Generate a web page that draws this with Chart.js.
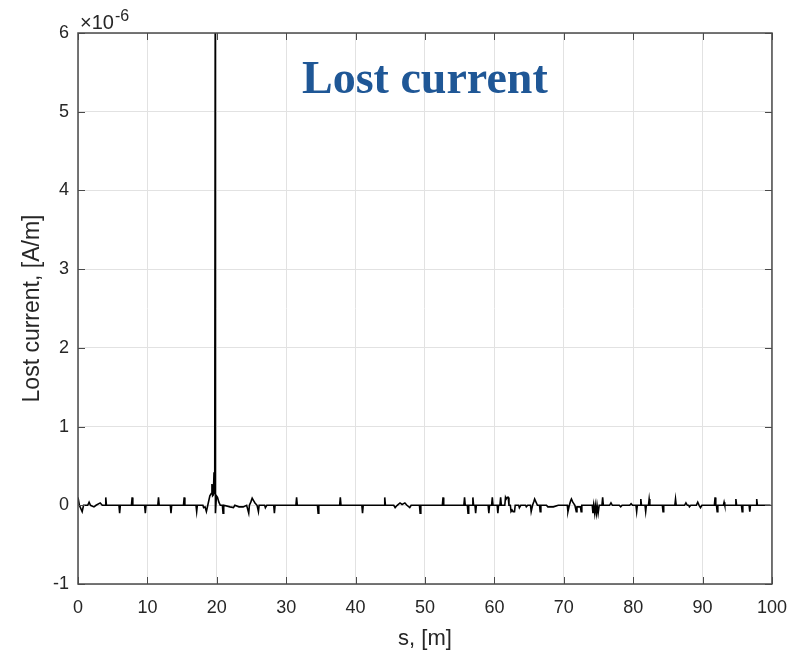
<!DOCTYPE html>
<html>
<head>
<meta charset="utf-8">
<script src="https://cdn.jsdelivr.net/npm/chart.js@4.4.1/dist/chart.umd.min.js"></script>
<style>
  html, body { margin: 0; padding: 0; background: #fff; }
  #wrap { width: 800px; height: 656px; }
</style>
</head>
<body>
<div id="wrap"><canvas id="lostChart" width="800" height="656"></canvas></div>
<script>
// s [m], lost current [x1e-6 A/m]
const lossTrace = [
  [0, 0.1], [0.2, 0], [0.6, -0.08], [0.8, 0], [1.4, 0], [1.6, 0.04], [1.8, 0], [2.3, -0.02], [2.6, 0],
  [3.2, 0.03], [3.5, 0], [3.9, 0], [4.0, 0.1], [4.1, 0],
  [5.9, 0], [6.0, -0.1], [6.1, 0], [7.7, 0], [7.8, 0.1], [7.9, 0], [9.6, 0], [9.7, -0.1], [9.8, 0],
  [11.5, 0], [11.6, 0.1], [11.7, 0], [13.3, 0], [13.4, -0.1], [13.5, 0], [15.2, 0], [15.3, 0.1], [15.4, 0],
  [17.0, 0], [17.1, -0.08], [17.2, 0], [18.0, 0], [18.1, -0.03], [18.3, -0.02], [18.5, -0.08], [18.7, 0],
  [19.0, 0.12], [19.2, 0.15], [19.3, 0.27], [19.4, 0.12], [19.5, 0.13], [19.6, 0.42], [19.7, 0.14],
  [19.77, 6.0], [19.8, -0.1], [19.95, 0.12], [20.1, 0.1], [20.3, 0.04], [20.5, 0],
  [20.8, 0], [20.9, -0.1], [21.0, 0], [21.9, -0.02], [22.4, -0.03], [22.6, 0], [23.2, -0.02], [23.8, -0.02],
  [24.3, 0], [24.6, -0.1], [24.7, 0], [24.9, 0.04], [25.1, 0.09], [25.3, 0.06], [25.5, 0.03], [25.8, 0],
  [26.0, -0.08], [26.1, 0], [26.9, 0], [27.0, -0.03], [27.2, 0], [28.2, 0], [28.3, -0.1], [28.4, 0],
  [31.4, 0], [31.5, 0.1], [31.6, 0], [34.5, 0], [34.6, -0.1], [34.7, 0], [37.7, 0], [37.8, 0.1], [37.9, 0],
  [40.9, 0], [41.0, -0.1], [41.1, 0], [44.1, 0], [44.2, 0.1], [44.3, 0],
  [45.5, 0], [45.7, -0.03], [46.0, 0], [46.4, 0.03], [46.7, 0.01], [47.1, 0.03], [47.4, 0], [47.8, -0.03], [48.0, 0],
  [49.2, 0], [49.3, -0.1], [49.4, 0], [52.5, 0], [52.6, 0.1], [52.7, 0],
  [55.6, 0], [55.7, 0.1], [55.8, 0], [56.1, 0], [56.2, -0.1], [56.3, 0], [56.8, 0], [56.9, 0.1], [57.0, 0],
  [57.2, 0], [57.3, -0.1], [57.4, 0], [59.1, 0], [59.2, -0.1], [59.3, 0], [59.6, 0], [59.7, 0.1], [59.8, 0],
  [60.4, 0], [60.5, -0.1], [60.6, 0], [60.8, 0], [60.9, 0.1], [61.0, 0],
  [61.5, 0], [61.6, 0.1], [61.7, 0.08], [61.85, 0.1], [62.0, 0.1], [62.1, 0],
  [62.3, 0], [62.4, -0.08], [62.55, -0.06], [62.7, -0.08], [62.9, -0.08], [63.0, 0],
  [63.5, 0], [63.6, -0.03], [63.8, 0], [64.5, 0], [64.6, -0.02], [64.8, 0],
  [65.2, 0], [65.3, -0.08], [65.5, 0], [65.7, 0.05], [65.8, 0.08], [65.95, 0.05], [66.2, 0],
  [66.5, 0], [66.6, -0.08], [66.7, 0], [67.5, 0], [67.7, -0.02], [68.5, -0.02], [69.2, 0],
  [70.5, 0], [70.6, -0.08], [70.8, 0], [71.0, 0.06], [71.1, 0.08], [71.3, 0.04], [71.6, 0],
  [71.8, -0.08], [71.9, -0.02], [72.4, -0.02], [72.5, -0.08], [72.6, 0],
  [74.1, 0], [74.2, -0.1], [74.3, 0], [74.45, -0.1], [74.55, 0], [74.7, -0.1], [74.8, 0], [74.95, -0.1], [75.1, 0],
  [75.5, 0], [75.6, 0.1], [75.7, 0],
  [76.6, 0], [76.8, 0.03], [77.0, 0], [78.0, 0], [78.2, -0.02], [78.4, 0], [79.5, 0], [79.7, 0.02], [79.9, 0],
  [80.4, 0], [80.5, -0.08], [80.6, 0], [81.0, 0], [81.1, 0.08], [81.2, 0], [81.7, 0], [81.8, -0.08], [81.9, 0],
  [82.2, 0], [82.3, 0.08], [82.4, 0],
  [84.2, 0], [84.3, -0.08], [84.4, 0], [86.0, 0], [86.1, 0.08], [86.2, 0],
  [87.4, 0], [87.6, 0.03], [87.8, 0], [88.0, 0], [88.1, -0.02], [88.3, 0],
  [89.1, 0], [89.3, 0.04], [89.5, 0], [89.7, -0.03], [89.9, 0],
  [91.7, 0], [91.8, 0.1], [91.9, 0], [92.0, 0], [92.1, -0.08], [92.2, 0], [93.0, 0], [93.1, 0.04], [93.2, 0],
  [94.7, 0], [94.8, 0.08], [94.9, 0], [95.6, 0], [95.7, -0.08], [95.8, 0], [96.7, 0], [96.8, -0.08], [96.9, 0],
  [97.7, 0], [97.8, 0.08], [97.9, 0], [99.8, 0]
];

const xTicks = [0, 10, 20, 30, 40, 50, 60, 70, 80, 90, 100];
const yTicks = [-1, 0, 1, 2, 3, 4, 5, 6];

const tickFont = { family: 'Liberation Sans, Arial, sans-serif', size: 18 };
const axisColor = '#4a4a4a';

// MATLAB-like box, inward ticks, exponent and heading
const matlabAxes = {
    id: 'matlabAxes',
    afterDraw(chart) {
        const ctx = chart.ctx;
        const a = chart.chartArea;
        const xs = chart.scales.x, ys = chart.scales.y;
        ctx.save();
        ctx.strokeStyle = axisColor;
        ctx.lineWidth = 1.5;
        ctx.strokeRect(a.left, a.top, a.right - a.left, a.bottom - a.top);
        ctx.lineWidth = 1;
        ctx.beginPath();
        xTicks.forEach(v => {
            const px = Math.round(xs.getPixelForValue(v)) + 0.5;
            ctx.moveTo(px, a.bottom); ctx.lineTo(px, a.bottom - 7);
            ctx.moveTo(px, a.top); ctx.lineTo(px, a.top + 7);
        });
        yTicks.forEach(v => {
            const py = Math.round(ys.getPixelForValue(v)) + 0.5;
            ctx.moveTo(a.left, py); ctx.lineTo(a.left + 7, py);
            ctx.moveTo(a.right, py); ctx.lineTo(a.right - 7, py);
        });
        ctx.stroke();

        // x10^-6 multiplier
        ctx.fillStyle = '#262626';
        ctx.textBaseline = 'alphabetic';
        ctx.textAlign = 'left';
        ctx.font = '20px Liberation Sans, Arial, sans-serif';
        ctx.fillText('\u00d710', a.left + 2, 29);
        const w = ctx.measureText('\u00d710').width;
        ctx.font = '16px Liberation Sans, Arial, sans-serif';
        ctx.fillText('-6', a.left + 3 + w, 21);

        // heading
        ctx.fillStyle = '#1f5796';
        ctx.font = 'bold 46px Liberation Serif, Times New Roman, serif';
        ctx.fillText('Lost current', 302, 93);
        ctx.restore();
    }
};

new Chart(document.getElementById('lostChart').getContext('2d'), {
    type: 'line',
    data: {
        datasets: [{
            label: 'Lost current',
            data: lossTrace.map(p => ({ x: p[0], y: p[1] })),
            borderColor: '#000',
            borderWidth: 1.6,
            pointRadius: 0,
            tension: 0,
            fill: false
        }]
    },
    options: {
        responsive: false,
        devicePixelRatio: 1,
        animation: false,
        layout: { padding: { top: 33, right: 27, left: 0, bottom: 0 } },
        plugins: {
            legend: { display: false },
            tooltip: { enabled: false }
        },
        scales: {
            x: {
                type: 'linear',
                min: 0,
                max: 100,
                afterBuildTicks: s => { s.ticks = xTicks.map(v => ({ value: v })); },
                afterFit: s => { s.height = 72; },
                grid: { color: '#e2e2e2', lineWidth: 1, drawTicks: false },
                border: { display: false },
                ticks: { font: tickFont, color: '#262626', padding: 13, maxRotation: 0 },
                title: {
                    display: true,
                    text: 's, [m]',
                    font: { family: 'Liberation Sans, Arial, sans-serif', size: 22 },
                    color: '#262626',
                    padding: { top: 0, bottom: 4 }
                }
            },
            y: {
                type: 'linear',
                min: -1,
                max: 6,
                afterBuildTicks: s => { s.ticks = yTicks.map(v => ({ value: v })); },
                afterFit: s => { s.width = 78; },
                grid: { color: '#e2e2e2', lineWidth: 1, drawTicks: false },
                border: { display: false },
                ticks: { font: tickFont, color: '#262626', padding: 9 },
                title: {
                    display: true,
                    text: 'Lost current, [A/m]',
                    font: { family: 'Liberation Sans, Arial, sans-serif', size: 23 },
                    color: '#262626',
                    padding: { top: 19, bottom: 0 }
                }
            }
        }
    },
    plugins: [matlabAxes]
});
</script>
</body>
</html>
